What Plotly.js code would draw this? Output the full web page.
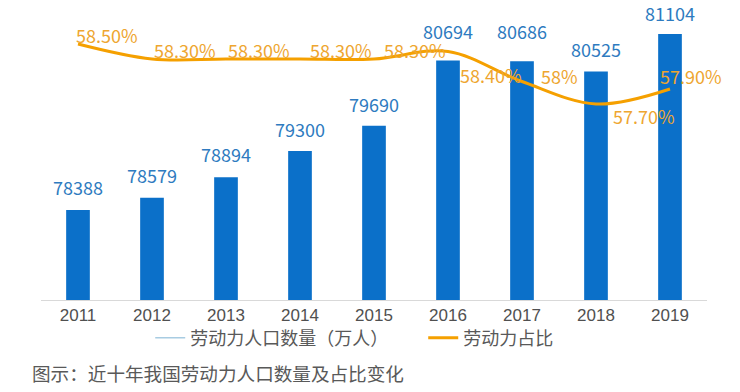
<!DOCTYPE html>
<html>
<head>
<meta charset="utf-8">
<script src="https://cdn.plot.ly/plotly-3.0.1.min.js"></script>
<style>html,body{margin:0;padding:0;background:#fff;}#chart{width:740px;height:392px;}</style>
</head>
<body>
<div id="chart"></div>
<script>
// ---- data ----
const years = ["2011","2012","2013","2014","2015","2016","2017","2018","2019"];
const labour = [78388, 78579, 78894, 79300, 79690, 80694, 80686, 80525, 81104];
const share = [58.5, 58.3, 58.3, 58.3, 58.3, 58.4, 58.0, 57.7, 57.9];
const shareLabels = ["58.50%","58.30%","58.30%","58.30%","58.30%","58.40%","58%","57.70%","57.90%"];
const seriesNames = ["劳动力人口数量（万人）", "劳动力占比"];
const captionText = "图示：近十年我国劳动力人口数量及占比变化";

// ---- label offsets (styling only) ----
const barLabelShift = [23, 23, 23, 22, 22, 30, 30, 23, 21];
const shareLabelDx = [-4, 0, 0, 8, 8, 10, 17, 15, -12];
const shareLabelDy = [9, 9, 9, 9, 9, -24, 5, -12, 13];

const FONT = '"Noto Sans CJK SC", "Noto Sans", sans-serif';
const BAR_COLOR = '#0B70C9';
const BAR_TEXT = '#2E7BC0';
const LINE_COLOR = '#F5A000';
const LINE_TEXT = '#EEA630';

const traces = [
  {
    type: 'bar', x: years, y: labour, name: seriesNames[0],
    marker: {color: BAR_COLOR}, showlegend: false, hoverinfo: 'skip'
  },
  {
    type: 'scatter', mode: 'lines', x: years, y: years.map(() => null), name: seriesNames[0],
    line: {color: '#A8CCE2', width: 1.5}, hoverinfo: 'skip'
  },
  {
    type: 'scatter', mode: 'lines', x: years, y: share, name: seriesNames[1], yaxis: 'y2',
    line: {color: LINE_COLOR, width: 3, shape: 'spline', smoothing: 1}, hoverinfo: 'skip'
  }
];

const annotations = [];
years.forEach((yr, i) => {
  annotations.push({
    x: i, y: labour[i], xref: 'x', yref: 'y', text: String(labour[i]),
    showarrow: false, xanchor: 'center', yanchor: 'middle', yshift: barLabelShift[i],
    font: {family: FONT, size: 18, color: BAR_TEXT}
  });
  annotations.push({
    x: i, y: share[i], xref: 'x', yref: 'y2', text: shareLabels[i],
    showarrow: false, xanchor: 'left', yanchor: 'middle',
    xshift: shareLabelDx[i], yshift: shareLabelDy[i],
    font: {family: FONT, size: 18, color: LINE_TEXT}
  });
});
annotations.push({
  xref: 'paper', yref: 'paper', x: -0.0165, y: -0.2517, xanchor: 'left', yanchor: 'middle',
  text: captionText, showarrow: false, font: {family: FONT, size: 18.6, color: '#595959'}
});

const layout = {
  width: 740, height: 392,
  margin: {l: 41, r: 33, t: 10, b: 92},
  paper_bgcolor: '#ffffff', plot_bgcolor: '#ffffff',
  font: {family: FONT, color: '#595959'},
  bargap: 0.68,
  xaxis: {
    type: 'category', categoryorder: 'array', categoryarray: years, range: [-0.5, 8.5],
    showgrid: false, zeroline: false,
    showline: true, linecolor: '#D9D9D9', linewidth: 1,
    ticks: '', tickfont: {family: '"Liberation Sans", Arial, sans-serif', size: 17, color: '#505050'}
  },
  yaxis: {
    range: [77000, 81475], visible: false, showgrid: false, zeroline: false
  },
  yaxis2: {
    range: [55.087, 58.953], overlaying: 'y', side: 'right', visible: false,
    showgrid: false, zeroline: false
  },
  showlegend: true,
  legend: {
    orientation: 'h', x: 0.164, xanchor: 'left', y: -0.131, yanchor: 'middle',
    entrywidth: 228,
    font: {family: FONT, size: 18, color: '#595959'}, bgcolor: 'rgba(0,0,0,0)'
  },
  annotations: annotations
};

Plotly.newPlot('chart', traces, layout, {staticPlot: true, displayModeBar: false});
</script>
</body>
</html>
